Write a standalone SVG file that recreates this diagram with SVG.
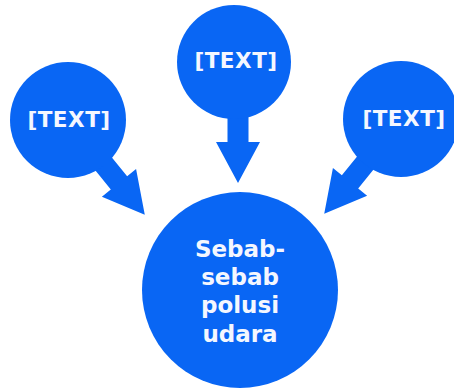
<svg xmlns="http://www.w3.org/2000/svg" width="454" height="389" viewBox="0 0 454 389">
<style>
.node{fill:#0966F4}
.arr{fill:#0966F4}
.t{font-family:"DejaVu Sans",Verdana,sans-serif;font-weight:bold;font-size:21.5px;fill:#F4F7FF;text-anchor:middle;letter-spacing:0.5px}
.m{font-size:23px;letter-spacing:0}
</style>
<defs>
<polygon id="arrow" points="0,-10.5 81,-10.5 81,-22 122,0 81,22 81,10.5 0,10.5"/>
</defs>
<rect width="454" height="389" fill="#ffffff"/>
<g id="connectors">
<use href="#arrow" class="arr" transform="translate(238,61) rotate(90)"/>
<use href="#arrow" class="arr" transform="translate(68,120) rotate(51)"/>
<use href="#arrow" class="arr" transform="translate(401,119) rotate(129)"/>
</g>
<g id="top">
<circle class="node" cx="234" cy="62" r="57"/>
<text class="t" x="236" y="68">[TEXT]</text>
</g>
<g id="left">
<circle class="node" cx="68" cy="120" r="58"/>
<text class="t" x="69" y="127">[TEXT]</text>
</g>
<g id="right">
<circle class="node" cx="401" cy="119" r="58"/>
<text class="t" x="404" y="126">[TEXT]</text>
</g>
<g id="center">
<circle class="node" cx="240" cy="290" r="98"/>
<text class="t m" x="240" y="257">Sebab-</text>
<text class="t m" x="240" y="285">sebab</text>
<text class="t m" x="240" y="313">polusi</text>
<text class="t m" x="240" y="342">udara</text>
</g>
</svg>
